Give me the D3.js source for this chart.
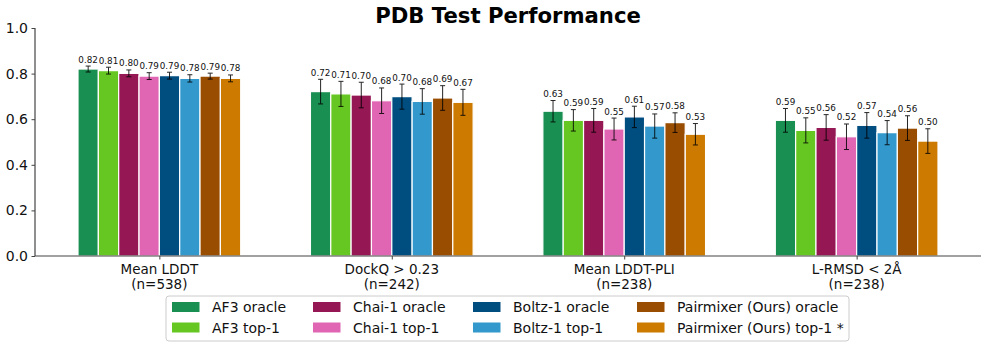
<!DOCTYPE html>
<html><head><meta charset="utf-8">
<script src="https://cdn.jsdelivr.net/npm/d3@7"></script>
<style>body{margin:0;background:#fff;} svg{display:block;font-family:"DejaVu Sans",sans-serif;}</style>
</head><body>
<svg id="chart" width="987" height="347"></svg>
<script>
const categories = ["Mean LDDT\n(n=538)", "DockQ > 0.23\n(n=242)", "Mean LDDT-PLI\n(n=238)", "L-RMSD < 2Å\n(n=238)"];
const seriesNames = ["AF3 oracle", "AF3 top-1", "Chai-1 oracle", "Chai-1 top-1", "Boltz-1 oracle", "Boltz-1 top-1", "Pairmixer (Ours) oracle", "Pairmixer (Ours) top-1 *"];
const seriesColors = ["#1a8f52", "#66c722", "#951854", "#e066b3", "#004d80", "#3399cc", "#994d00", "#cc7a00"];
// values[series][category]
const values = [
  [0.820, 0.721, 0.635, 0.595],
  [0.813, 0.711, 0.595, 0.551],
  [0.801, 0.706, 0.595, 0.564],
  [0.789, 0.681, 0.557, 0.523],
  [0.791, 0.699, 0.610, 0.573],
  [0.779, 0.678, 0.570, 0.541],
  [0.789, 0.693, 0.585, 0.561],
  [0.779, 0.674, 0.534, 0.504]
];
const errors = [
  [0.013, 0.054, 0.047, 0.052],
  [0.015, 0.055, 0.047, 0.055],
  [0.015, 0.056, 0.052, 0.056],
  [0.015, 0.056, 0.048, 0.056],
  [0.015, 0.055, 0.047, 0.056],
  [0.016, 0.056, 0.053, 0.053],
  [0.013, 0.054, 0.043, 0.054],
  [0.015, 0.057, 0.047, 0.054]
];
const labels = [
  ["0.82", "0.72", "0.63", "0.59"],
  ["0.81", "0.71", "0.59", "0.55"],
  ["0.80", "0.70", "0.59", "0.56"],
  ["0.79", "0.68", "0.55", "0.52"],
  ["0.79", "0.70", "0.61", "0.57"],
  ["0.78", "0.68", "0.57", "0.54"],
  ["0.79", "0.69", "0.58", "0.56"],
  ["0.78", "0.67", "0.53", "0.50"]
];
const yTicks = [0, 0.2, 0.4, 0.6, 0.8, 1.0];
const title = "PDB Test Performance";

const svg = d3.select("#chart");
const mLeft = 35, mRight = 981, mTop = 28, mBottom = 256;
const nS = seriesNames.length;
const barW = 0.7 / nS;
const x = d3.scaleLinear().domain([-0.535, categories.length - 1 + 0.535]).range([mLeft, mRight]);
const y = d3.scaleLinear().domain([0, 1]).range([mBottom, mTop]);
const axisColor = "#444";

// bars
const g = svg.append("g");
values.forEach((vals, s) => {
  vals.forEach((v, c) => {
    const cx = c - 0.35 + barW * (s + 0.5);
    const x0 = x(cx - barW / 2), x1 = x(cx + barW / 2);
    g.append("rect")
      .attr("x", x0).attr("y", y(v))
      .attr("width", x1 - x0).attr("height", y(0) - y(v))
      .attr("fill", seriesColors[s]).attr("stroke", "#fff").attr("stroke-width", 1.2);
    const e = errors[s][c];
    const px = x(cx);
    const eg = g.append("g").attr("stroke", "#000").attr("stroke-width", 1).attr("opacity", 0.85);
    eg.append("line").attr("x1", px).attr("x2", px).attr("y1", y(v - e)).attr("y2", y(v + e));
    eg.append("line").attr("x1", px - 2.5).attr("x2", px + 2.5).attr("y1", y(v - e)).attr("y2", y(v - e));
    eg.append("line").attr("x1", px - 2.5).attr("x2", px + 2.5).attr("y1", y(v + e)).attr("y2", y(v + e));
    g.append("text").attr("x", px).attr("y", y(v + e) - 3.5)
      .attr("text-anchor", "middle").attr("font-size", 8.8).attr("fill", "#111")
      .text(labels[s][c]);
  });
});

// y axis
const yAxis = d3.axisLeft(y).tickValues(yTicks).tickFormat(d3.format(".1f")).tickSize(3.5).tickPadding(3.5);
const ya = svg.append("g").attr("transform", `translate(${mLeft},0)`).call(yAxis);
ya.select(".domain").attr("stroke", axisColor).attr("stroke-width", 1.2).attr("d", `M0,${mTop}V${mBottom}`);
ya.selectAll(".tick line").attr("stroke", axisColor);
ya.selectAll(".tick text").attr("font-size", 14).attr("fill", "#111").attr("font-family", "DejaVu Sans");

// x axis
const xAxis = d3.axisBottom(x).tickValues(d3.range(categories.length)).tickFormat("").tickSize(3.5);
const xa = svg.append("g").attr("transform", `translate(0,${mBottom})`).call(xAxis);
xa.select(".domain").attr("stroke", axisColor).attr("stroke-width", 1.2).attr("d", `M${mLeft},0H${mRight}`);
xa.selectAll(".tick line").attr("stroke", axisColor);
categories.forEach((cat, i) => {
  const lines = cat.split("\n");
  lines.forEach((ln, j) => {
    svg.append("text").attr("x", x(i)).attr("y", 273.5 + j * 15.5)
      .attr("text-anchor", "middle").attr("font-size", 13.5).attr("fill", "#111").text(ln);
  });
});

// title
svg.append("text").attr("x", (mLeft + mRight) / 2).attr("y", 22.7).attr("text-anchor", "middle")
  .attr("font-size", 21.2).attr("font-weight", "bold").attr("fill", "#000").text(title);

// legend
const legX = 166, legY = 296, legW = 683, legH = 45;
svg.append("rect").attr("x", legX).attr("y", legY).attr("width", legW).attr("height", legH)
  .attr("rx", 3).attr("fill", "#fff").attr("stroke", "#ccc").attr("stroke-width", 1);
const colX = [172, 313, 473, 637];
seriesNames.forEach((name, i) => {
  const col = Math.floor(i / 2), row = i % 2;
  const lx = colX[col], ly = 307 + row * 20.5;
  svg.append("rect").attr("x", lx).attr("y", ly - 5).attr("width", 27.5).attr("height", 10).attr("fill", seriesColors[i]);
  svg.append("text").attr("x", lx + 40).attr("y", ly + 5).attr("font-size", 14).attr("fill", "#111").text(name);
});
</script>
</body></html>
